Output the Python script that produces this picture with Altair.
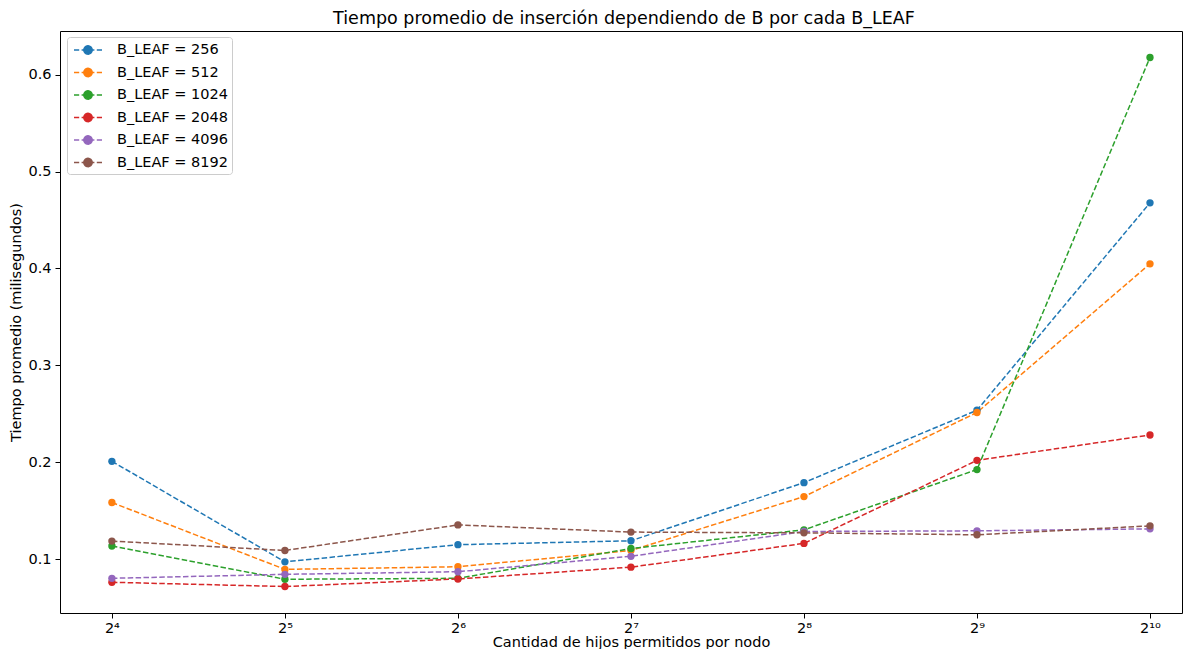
import altair as alt
import pandas as pd

# ---- data ----
hijos = [16, 32, 64, 128, 256, 512, 1024]
series_names = ["B_LEAF = 256", "B_LEAF = 512", "B_LEAF = 1024",
                "B_LEAF = 2048", "B_LEAF = 4096", "B_LEAF = 8192"]
t_256 = [0.2010, 0.0973, 0.1150, 0.1190, 0.1790, 0.2537, 0.4677]
t_512 = [0.1585, 0.0895, 0.0922, 0.1090, 0.1646, 0.2514, 0.4048]
t_1024 = [0.1136, 0.0793, 0.0803, 0.1110, 0.1303, 0.1925, 0.6177]
t_2048 = [0.0762, 0.0718, 0.0796, 0.0918, 0.1163, 0.2020, 0.2282]
t_4096 = [0.0803, 0.0844, 0.0871, 0.1030, 0.1286, 0.1293, 0.1313]
t_8192 = [0.1187, 0.1090, 0.1354, 0.1280, 0.1272, 0.1252, 0.1344]
colors = ["#1f77b4", "#ff7f0e", "#2ca02c", "#d62728", "#9467bd", "#8c564b"]
y_ticks = [0.1, 0.2, 0.3, 0.4, 0.5, 0.6]
sup = {16: "2⁴", 32: "2⁵", 64: "2⁶", 128: "2⁷", 256: "2⁸", 512: "2⁹", 1024: "2¹⁰"}

all_series = [t_256, t_512, t_1024, t_2048, t_4096, t_8192]
rows = []
for name, vals in zip(series_names, all_series):
    for b, t in zip(hijos, vals):
        rows.append({"serie": name, "B": b, "t": t})
df = pd.DataFrame(rows)

label_expr = " : ".join(f"datum.value == {k} ? '{v}'" for k, v in sup.items()) + " : ''"

FONT = "DejaVu Sans"

# legend symbol: dashed line with a filled marker (units of 8px)
sym_path = ("M-1.75,0H-1.1M-0.8,0H-0.3M0.3,0H0.8M1.1,0H1.75"
            "M0.52,0A0.52,0.52,0,1,1,-0.52,0A0.52,0.52,0,1,1,0.52,0Z")

color_enc = alt.Color(
    "serie:N",
    scale=alt.Scale(domain=series_names, range=colors),
    sort=series_names,
    legend=alt.Legend(
        title=None, orient="none", legendX=7, legendY=6,
        padding=4, strokeColor="#cccccc", fillColor="rgba(255,255,255,0.8)",
        cornerRadius=3, labelFont=FONT, labelFontSize=14.5, labelColor="black",
        symbolType=sym_path, symbolSize=256, symbolStrokeWidth=1.5,
        symbolOffset=8, labelOffset=20, rowPadding=5.5,
        symbolDash=[1, 0], symbolOpacity=1,
    ),
)

base = alt.Chart(df).encode(
    x=alt.X("B:Q",
            scale=alt.Scale(type="log", base=2, domain=[2 ** 3.7, 2 ** 10.185], nice=False),
            axis=alt.Axis(values=hijos, labelExpr=label_expr,
                          title="Cantidad de hijos permitidos por nodo",
                          labelPadding=3, titlePadding=1, titleX=571)),
    y=alt.Y("t:Q",
            scale=alt.Scale(domain=[0.0445, 0.645], nice=False, zero=False),
            axis=alt.Axis(values=y_ticks, format=".1f",
                          title="Tiempo promedio (milisegundos)", titlePadding=4)),
    color=color_enc,
)

lines = base.mark_line(strokeDash=[5.5, 2.4], strokeWidth=1.5)
points = base.mark_circle(size=54, opacity=1)

chart = alt.layer(lines, points).properties(
    width=1122, height=582,
    title=alt.TitleParams("Tiempo promedio de inserción dependiendo de B por cada B_LEAF",
                          font=FONT, fontSize=17.5, fontWeight="normal",
                          color="black", anchor="middle", offset=4, dx=3),
    autosize=alt.AutoSizeParams(type="none"),
    padding={"left": 52, "top": 23, "right": 2, "bottom": 36},
).configure_view(
    stroke="black", strokeWidth=1
).configure_axis(
    grid=False, domain=False, tickColor="black", tickWidth=1, tickSize=5,
    labelPadding=4, labelFont=FONT, labelFontSize=14.5, labelColor="black",
    titleFont=FONT, titleFontSize=14.5, titleFontWeight="normal", titleColor="black",
)

chart.save("out.html", embed_options={"renderer": "svg", "actions": False})
